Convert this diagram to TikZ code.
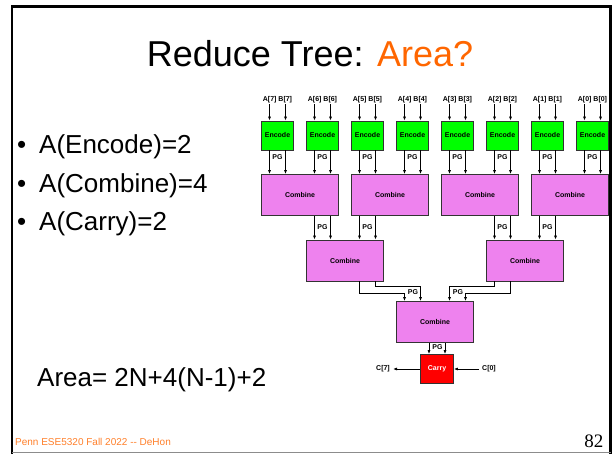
\documentclass[tikz,border=0pt]{standalone}
\usepackage{fontspec}
\setmainfont{Liberation Sans}
\newfontfamily\pagenumfont{Liberation Serif}
\usetikzlibrary{arrows.meta, positioning}

\definecolor{titleorange}{HTML}{FF6600}
\definecolor{footorange}{HTML}{FF7F2A}
\definecolor{encgreen}{HTML}{00FF00}
\definecolor{combviolet}{HTML}{EE82EE}
\definecolor{carryred}{HTML}{FF0000}
\newcommand{\diagfont}{\bfseries\fontsize{7}{8}\selectfont}

\begin{document}
\begin{tikzpicture} [x=1pt, y=-1pt,
    >={Latex[length=4pt,width=3pt]},
    block/.style = {draw=black!80, line width=0.8pt, inner sep=0pt, font=\diagfont},
    encode/.style = {block, fill=encgreen, minimum width=32pt, minimum height=29pt},
    combine/.style = {block, fill=combviolet, minimum width=77pt, minimum height=41pt},
    carry/.style = {block, fill=carryred, text=white, minimum width=33pt, minimum height=29pt},
    pin/.style = {font=\diagfont, inner sep=1pt},
    wire/.style = {->, line width=0.7pt},
    bullet/.style = {anchor=base west, inner sep=0pt, font=\fontsize{26}{30}\selectfont}]
    \useasboundingbox (0,0) rectangle (613,454);
    % \draw [help lines, step=50] (0,0) grid (613,454);

    % title and text
    \node (title) [anchor=base, inner sep=0pt, font=\fontsize{36}{40}\selectfont]
        at (310,67) {Reduce Tree: \textcolor{titleorange}{Area?}};
    \node (enc) [bullet] at (17,154) {\makebox[22pt][l]{\textbullet}A(Encode)=2};
    \node (comb) [bullet] at (17,193) {\makebox[22pt][l]{\textbullet}A(Combine)=4};
    \node (carr) [bullet] at (17,231) {\makebox[22pt][l]{\textbullet}A(Carry)=2};
    \node (area) [bullet] at (37,386) {Area= 2N+4(N-1)+2};
    \node (foot) [anchor=base west, inner sep=0pt, text=footorange,
        font=\fontsize{10}{12}\selectfont] at (15,445) {Penn ESE5320 Fall 2022 -{}- DeHon};
    \node (pnum) [anchor=base east, inner sep=0pt,
        font=\pagenumfont\fontsize{19}{21}\selectfont] at (603.5,447) {82};

    % inputs
    \node (a7) [pin] at (277.5,100) {A[7] B[7]};
    \node (a6) [pin] at (322.5,100) {A[6] B[6]};
    \node (a5) [pin] at (367.5,100) {A[5] B[5]};
    \node (a4) [pin] at (412.5,100) {A[4] B[4]};
    \node (a3) [pin] at (457.5,100) {A[3] B[3]};
    \node (a2) [pin] at (502.5,100) {A[2] B[2]};
    \node (a1) [pin] at (547.5,100) {A[1] B[1]};
    \node (a0) [pin] at (592.5,100) {A[0] B[0]};

    % encoders
    \node (e7) [encode] at (277.5,135.5) {Encode};
    \node (e6) [encode] at (322.5,135.5) {Encode};
    \node (e5) [encode] at (367.5,135.5) {Encode};
    \node (e4) [encode] at (412.5,135.5) {Encode};
    \node (e3) [encode] at (457.5,135.5) {Encode};
    \node (e2) [encode] at (502.5,135.5) {Encode};
    \node (e1) [encode] at (547.5,135.5) {Encode};
    \node (e0) [encode] at (592.5,135.5) {Encode};

    % combine tree
    \node (c76) [combine] at (300,195) {Combine};
    \node (c54) [combine] at (390,195) {Combine};
    \node (c32) [combine] at (480,195) {Combine};
    \node (c10) [combine] at (570,195) {Combine};
    \node (d74) [combine] at (345,260.5) {Combine};
    \node (d30) [combine] at (525,260.5) {Combine};
    \node (all) [combine] at (435,322) {Combine};
    \node (cy) [carry] at (437,369) {Carry};
    \node (cout) [pin, inner sep=3pt] at (383,369) {C[7]};
    \node (cin) [pin, inner sep=3pt] at (489,369) {C[0]};

    % PG labels
    \node [pin] at (277.5,157) {PG};
    \node [pin] at (322.5,157) {PG};
    \node [pin] at (367.5,157) {PG};
    \node [pin] at (412.5,157) {PG};
    \node [pin] at (457.5,157) {PG};
    \node [pin] at (502.5,157) {PG};
    \node [pin] at (547.5,157) {PG};
    \node [pin] at (592.5,157) {PG};
    \node [pin] at (322.5,227) {PG};
    \node [pin] at (367.5,227) {PG};
    \node [pin] at (502.5,227) {PG};
    \node [pin] at (547.5,227) {PG};
    \node [pin] at (413,292.5) {PG};
    \node [pin] at (458,292.5) {PG};
    \node [pin] at (437.5,347.5) {PG};

    \path [wire]
        ([xshift=-8pt]a7.south) edge ([xshift=-8pt]e7.north)
        ([xshift=8pt]a7.south) edge ([xshift=8pt]e7.north)
        ([xshift=-8pt]a6.south) edge ([xshift=-8pt]e6.north)
        ([xshift=8pt]a6.south) edge ([xshift=8pt]e6.north)
        ([xshift=-8pt]a5.south) edge ([xshift=-8pt]e5.north)
        ([xshift=8pt]a5.south) edge ([xshift=8pt]e5.north)
        ([xshift=-8pt]a4.south) edge ([xshift=-8pt]e4.north)
        ([xshift=8pt]a4.south) edge ([xshift=8pt]e4.north)
        ([xshift=-8pt]a3.south) edge ([xshift=-8pt]e3.north)
        ([xshift=8pt]a3.south) edge ([xshift=8pt]e3.north)
        ([xshift=-8pt]a2.south) edge ([xshift=-8pt]e2.north)
        ([xshift=8pt]a2.south) edge ([xshift=8pt]e2.north)
        ([xshift=-8pt]a1.south) edge ([xshift=-8pt]e1.north)
        ([xshift=8pt]a1.south) edge ([xshift=8pt]e1.north)
        ([xshift=-8pt]a0.south) edge ([xshift=-8pt]e0.north)
        ([xshift=8pt]a0.south) edge ([xshift=8pt]e0.north)
        ([xshift=-8pt]e7.south) edge ([xshift=-30.5pt]c76.north)
        ([xshift=8pt]e7.south) edge ([xshift=-14.5pt]c76.north)
        ([xshift=-8pt]e6.south) edge ([xshift=14.5pt]c76.north)
        ([xshift=8pt]e6.south) edge ([xshift=30.5pt]c76.north)
        ([xshift=-8pt]e5.south) edge ([xshift=-30.5pt]c54.north)
        ([xshift=8pt]e5.south) edge ([xshift=-14.5pt]c54.north)
        ([xshift=-8pt]e4.south) edge ([xshift=14.5pt]c54.north)
        ([xshift=8pt]e4.south) edge ([xshift=30.5pt]c54.north)
        ([xshift=-8pt]e3.south) edge ([xshift=-30.5pt]c32.north)
        ([xshift=8pt]e3.south) edge ([xshift=-14.5pt]c32.north)
        ([xshift=-8pt]e2.south) edge ([xshift=14.5pt]c32.north)
        ([xshift=8pt]e2.south) edge ([xshift=30.5pt]c32.north)
        ([xshift=-8pt]e1.south) edge ([xshift=-30.5pt]c10.north)
        ([xshift=8pt]e1.south) edge ([xshift=-14.5pt]c10.north)
        ([xshift=-8pt]e0.south) edge ([xshift=14.5pt]c10.north)
        ([xshift=8pt]e0.south) edge ([xshift=30.5pt]c10.north)
        ([xshift=14.5pt]c76.south) edge ([xshift=-30.5pt]d74.north)
        ([xshift=30.5pt]c76.south) edge ([xshift=-14.5pt]d74.north)
        ([xshift=-30.5pt]c54.south) edge ([xshift=14.5pt]d74.north)
        ([xshift=-14.5pt]c54.south) edge ([xshift=30.5pt]d74.north)
        ([xshift=14.5pt]c32.south) edge ([xshift=-30.5pt]d30.north)
        ([xshift=30.5pt]c32.south) edge ([xshift=-14.5pt]d30.north)
        ([xshift=-30.5pt]c10.south) edge ([xshift=14.5pt]d30.north)
        ([xshift=-14.5pt]c10.south) edge ([xshift=30.5pt]d30.north)
        ([xshift=-6pt]all.south) edge ([xshift=-8pt]cy.north)
        ([xshift=10pt]all.south) edge ([xshift=8pt]cy.north)
        (cy.west) edge (cout.east)
        (cin.west) edge (cy.east);
    \draw [wire] ([xshift=14.5pt]d74.south) -- ++(0,12) -| ([xshift=-30.5pt]all.north);
    \draw [wire] ([xshift=30.5pt]d74.south) -- ++(0,5) -| ([xshift=-14.5pt]all.north);
    \draw [wire] ([xshift=-30.5pt]d30.south) -- ++(0,5) -| ([xshift=14.5pt]all.north);
    \draw [wire] ([xshift=-14.5pt]d30.south) -- ++(0,12) -| ([xshift=30.5pt]all.north);

    % slide frame
    \draw [line width=2.5pt] (12,454) -- (12,6.5) -- (610.5,6.5) -- (610.5,454);
    \draw [black!45, line width=1pt] (12,452.8) -- (610.5,452.8);
\end{tikzpicture}
\end{document}
